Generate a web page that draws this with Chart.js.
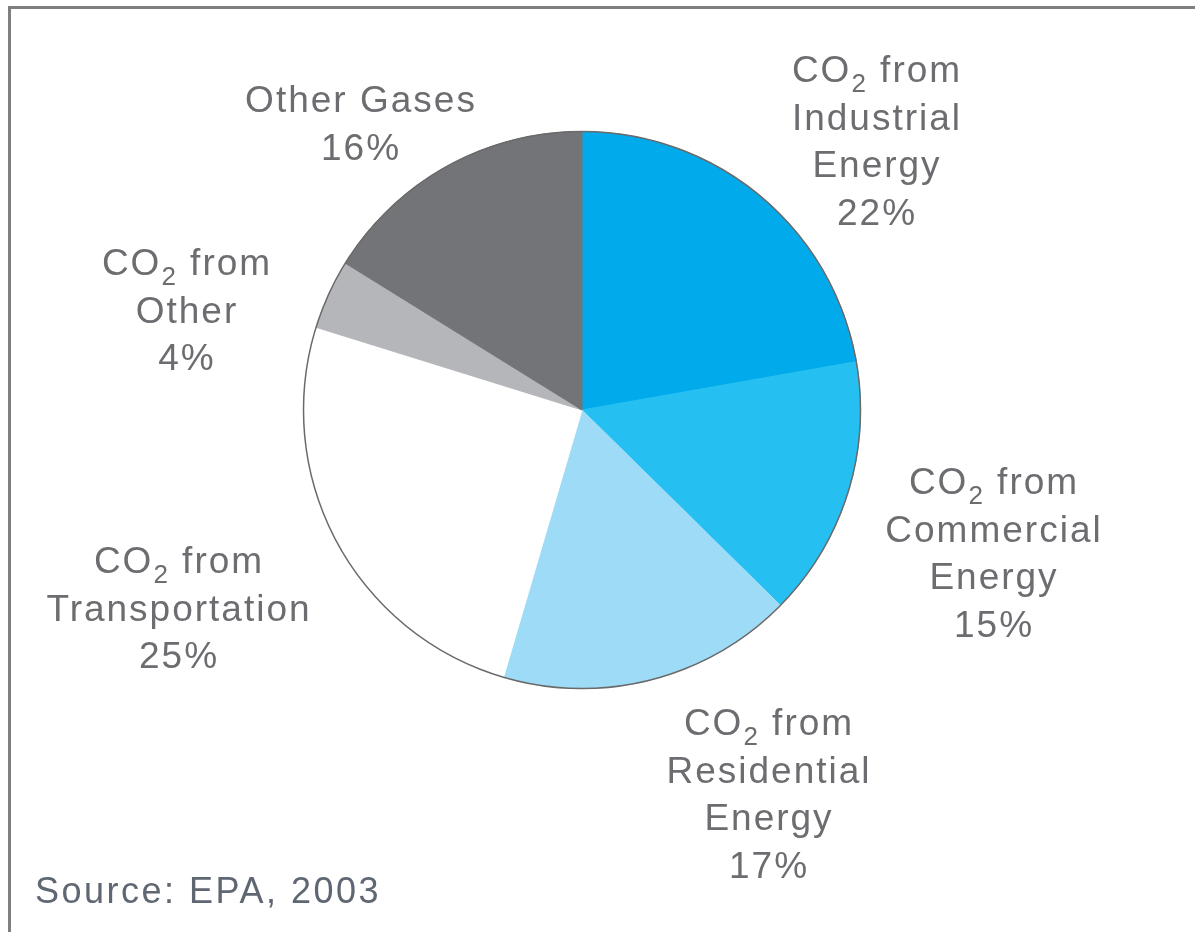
<!DOCTYPE html>
<html>
<head>
<meta charset="utf-8">
<script src="https://cdn.jsdelivr.net/npm/chart.js@4.4.0/dist/chart.umd.min.js"></script>
<style>
  html, body { margin: 0; padding: 0; background: #fff; }
  #wrap { width: 1195px; height: 932px; position: relative; }
</style>
</head>
<body>
<div id="wrap"><canvas id="ghgChart"></canvas></div>
<script>
// slices, clockwise from 12 o'clock
const categories = [
    "CO2 from Industrial Energy",
    "CO2 from Commercial Energy",
    "CO2 from Residential Energy",
    "CO2 from Transportation",
    "CO2 from Other",
    "Other Gases"
];
const shares = [22, 15, 17, 25, 4, 16];
const sliceColors = ["#00AAEB", "#25BFF1", "#9EDBF7", "#FFFFFF", "#B5B6BA", "#737477"];

// label text per slice ("CO_2" marks the subscript)
const labelLines = [
    ["CO_2 from", "Industrial", "Energy"],
    ["CO_2 from", "Commercial", "Energy"],
    ["CO_2 from", "Residential", "Energy"],
    ["CO_2 from", "Transportation"],
    ["CO_2 from", "Other"],
    ["Other Gases"]
];
const sourceNote = "Source: EPA, 2003";

// layout: label centre x and first baseline, line step
const labelPos = [
    [876, 82], [993, 494], [768, 735], [178, 573], [186, 275], [360, 112]
];
const lineStep = 47.5;

const textColor = "#6c6d70";
const fontMain = "37px 'Liberation Sans', Arial, sans-serif";
const fontSub = "26px 'Liberation Sans', Arial, sans-serif";

function drawLine(ctx, text, cx, y){
    ctx.letterSpacing = "2px";
    if(text.indexOf("_2") < 0){
        ctx.font = fontMain;
        ctx.textAlign = "center";
        ctx.fillText(text, cx + 1, y);
        return;
    }
    const parts = text.split("_2");
    ctx.font = fontMain;
    const w1 = ctx.measureText(parts[0]).width;
    const w3 = ctx.measureText(parts[1]).width;
    ctx.font = fontSub;
    const w2 = ctx.measureText("2").width;
    let x = cx - (w1 + w2 + w3) / 2 + 1;
    ctx.textAlign = "left";
    ctx.font = fontMain;
    ctx.fillText(parts[0], x, y);
    x += w1;
    ctx.font = fontSub;
    ctx.fillText("2", x, y + 10);
    x += w2;
    ctx.font = fontMain;
    ctx.fillText(parts[1], x, y);
}

const decorPlugin = {
    id: "decor",
    beforeDraw(chart){
        const ctx = chart.ctx;
        ctx.save();
        ctx.strokeStyle = "#7f7f7f";
        ctx.lineWidth = 3;
        ctx.beginPath();
        ctx.moveTo(9.5, 940);
        ctx.lineTo(9.5, 7.5);
        ctx.lineTo(1200, 7.5);
        ctx.stroke();
        ctx.restore();
    },
    afterDatasetsDraw(chart){
        const ctx = chart.ctx;
        const arc = chart.getDatasetMeta(0).data[0];
        ctx.save();
        ctx.strokeStyle = "#6a6a6a";
        ctx.lineWidth = 1.5;
        ctx.beginPath();
        ctx.arc(arc.x, arc.y, arc.outerRadius, 0, Math.PI * 2);
        ctx.stroke();

        ctx.fillStyle = textColor;
        ctx.textBaseline = "alphabetic";
        labelLines.forEach((lines, i) => {
            const [cx, y0] = labelPos[i];
            const all = lines.concat([shares[i] + "%"]);
            all.forEach((t, k) => drawLine(ctx, t, cx, y0 + k * lineStep));
        });

        ctx.fillStyle = "#5f6773";
        ctx.font = "36px 'Liberation Sans', Arial, sans-serif";
        ctx.letterSpacing = "2.5px";
        ctx.textAlign = "left";
        ctx.fillText(sourceNote, 35, 903);
        ctx.restore();
    }
};

new Chart(document.getElementById("ghgChart"), {
    type: "pie",
    data: {
        labels: categories,
        datasets: [{
            data: shares,
            backgroundColor: sliceColors,
            borderColor: sliceColors,
            borderWidth: 1
        }]
    },
    options: {
        responsive: true,
        maintainAspectRatio: false,
        animation: false,
        layout: {
            padding: { left: 303, right: 334, top: 131, bottom: 243 }
        },
        plugins: {
            legend: { display: false },
            tooltip: { enabled: false }
        }
    },
    plugins: [decorPlugin]
});
</script>
</body>
</html>
